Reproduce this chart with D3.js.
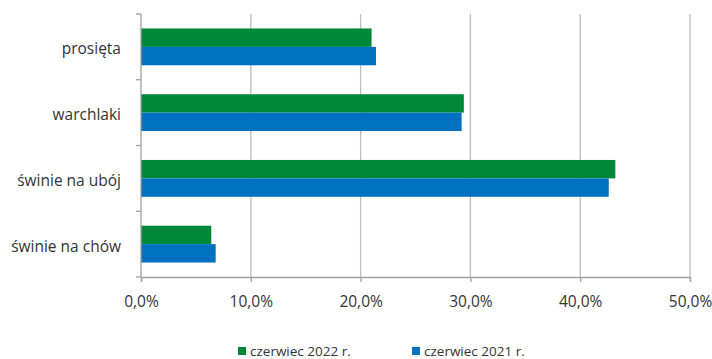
<!DOCTYPE html>
<html lang="pl">
<head>
  <meta charset="UTF-8">
  <title>Pogłowie świń</title>
  <script src="https://d3js.org/d3.v7.min.js"></script>
  <style>
    body { margin: 0; background: #fff; font-family: "Open Sans", sans-serif; }
    svg text { fill: #333; }
  </style>
</head>
<body>
<svg width="712" height="359"></svg>
<script>
  const categories = ["prosięta", "warchlaki", "świnie na ubój", "świnie na chów"];
  const series = ["czerwiec 2022 r.", "czerwiec 2021 r."];
  const values2022 = [21.0, 29.4, 43.2, 6.4];
  const values2021 = [21.4, 29.2, 42.6, 6.8];
  const xTicks = [0, 10, 20, 30, 40, 50];
  const colors = ["#00883a", "#0070c0"];

  const svg = d3.select("svg");
  const x0 = 141, x1 = 690, yTop = 14, yBottom = 277;

  const x = d3.scaleLinear().domain([0, 50]).range([x0, x1]);
  const y = d3.scaleBand().domain(categories).range([yTop, yBottom]).paddingInner(0.44).paddingOuter(0.22);
  const ySub = d3.scaleBand().domain(series).range([0, y.bandwidth()]);

  // gridlines
  svg.append("g").selectAll("line")
    .data(xTicks.slice(1))
    .join("line")
    .attr("x1", d => x(d)).attr("x2", d => x(d))
    .attr("y1", yTop).attr("y2", yBottom)
    .attr("stroke", "#bdbdbd").attr("stroke-width", 1.3);

  // bars
  const data = categories.map((c, i) => ({ c, vals: [values2022[i], values2021[i]] }));
  const groups = svg.append("g").selectAll("g")
    .data(data)
    .join("g")
    .attr("transform", d => `translate(0,${y(d.c)})`);
  groups.selectAll("rect")
    .data(d => d.vals.map((v, j) => ({ s: series[j], v, j })))
    .join("rect")
    .attr("x", x(0))
    .attr("y", d => ySub(d.s))
    .attr("width", d => x(d.v) - x(0))
    .attr("height", ySub.bandwidth())
    .attr("fill", d => colors[d.j]);

  // x axis
  const xAxis = d3.axisBottom(x).tickValues(xTicks).tickSize(5).tickPadding(14)
    .tickFormat(d => d.toFixed(1).replace(".", ",") + "%");
  const gx = svg.append("g").attr("transform", `translate(0,${yBottom})`).call(xAxis);
  gx.select(".domain").attr("stroke", "#a0a0a0").attr("stroke-width", 1.3);
  gx.selectAll(".tick line").attr("stroke", "#a0a0a0").attr("stroke-width", 1.3);
  gx.selectAll("text").attr("font-size", 15.5).attr("font-family", "Open Sans, sans-serif").attr("fill", "#333");

  // y axis
  svg.append("line")
    .attr("x1", x0).attr("x2", x0).attr("y1", yTop).attr("y2", yBottom)
    .attr("stroke", "#a0a0a0").attr("stroke-width", 1.3);
  const bounds = d3.range(categories.length + 1).map(i => yTop + i * (yBottom - yTop) / categories.length);
  svg.append("g").selectAll("line")
    .data(bounds)
    .join("line")
    .attr("x1", x0 - 5).attr("x2", x0)
    .attr("y1", d => d).attr("y2", d => d)
    .attr("stroke", "#a0a0a0").attr("stroke-width", 1.3);
  svg.append("g").selectAll("text")
    .data(categories)
    .join("text")
    .attr("x", 121)
    .attr("y", d => y(d) + y.bandwidth() / 2 + 2)
    .attr("dy", "0.35em")
    .attr("text-anchor", "end")
    .attr("font-size", 15.5)
    .text(d => d);

  // legend
  const legendX = [238, 412];
  const legend = svg.append("g").selectAll("g")
    .data(series)
    .join("g")
    .attr("transform", (d, i) => `translate(${legendX[i]},351)`);
  legend.append("rect")
    .attr("x", 0).attr("y", -4).attr("width", 8).attr("height", 8)
    .attr("fill", (d, i) => colors[i]);
  legend.append("text")
    .attr("x", 12).attr("y", 0).attr("dy", "0.35em")
    .attr("font-size", 13.5)
    .text(d => d);
</script>
</body>
</html>
